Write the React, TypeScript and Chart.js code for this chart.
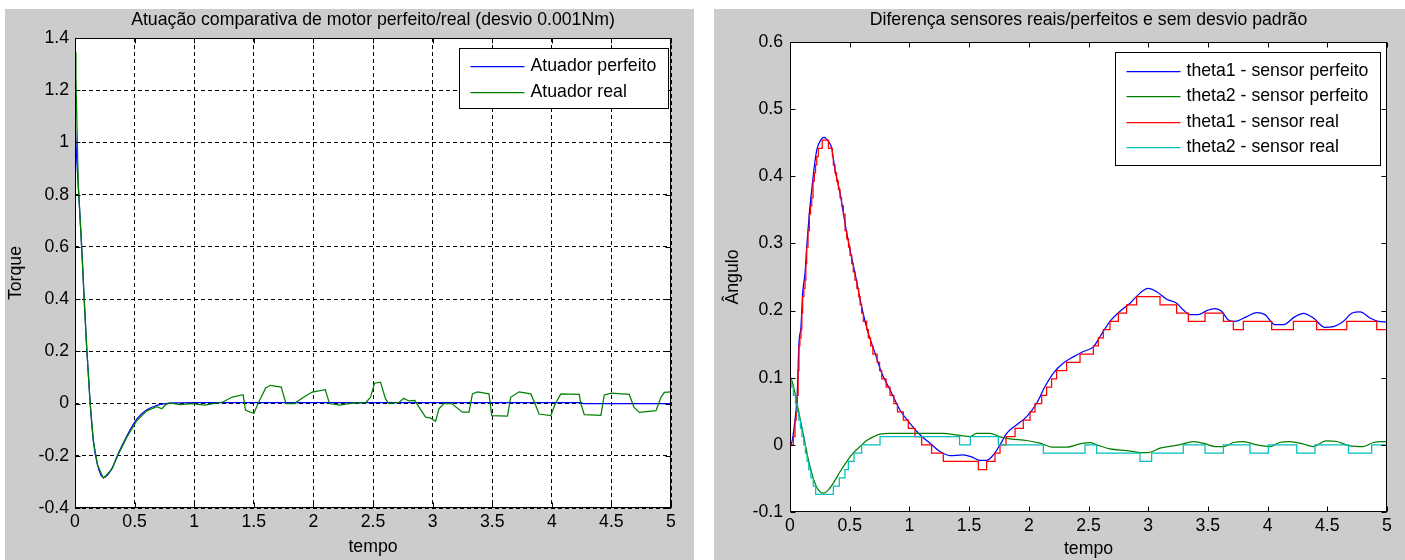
import React, { useEffect, useRef } from "react";
import { Chart, registerables } from "chart.js";

Chart.register(...registerables);

const FONT = "'Liberation Sans', Arial, Helvetica, sans-serif";
const FS = 17.7;

// ---------------- Left chart: torque ----------------
const leftTitle = "Atuação comparativa de motor perfeito/real (desvio 0.001Nm)";
const leftYLabel = "Torque";
const xLabel = "tempo";
const X_TICKS = [0, 0.5, 1, 1.5, 2, 2.5, 3, 3.5, 4, 4.5, 5];
const LEFT_Y_TICKS = [-0.4, -0.2, 0, 0.2, 0.4, 0.6, 0.8, 1, 1.2, 1.4];

const torquePerfeitoT = [0, 0.012, 0.028, 0.056, 0.076, 0.098, 0.126, 0.154, 0.188, 0.238, 0.308, 0.364, 0.434, 0.518, 0.602, 0.686, 0.76, 0.85, 1.0, 4.25, 4.26, 5.0];
const torquePerfeitoV = [1.1, 0.96, 0.83, 0.6, 0.41, 0.215, 0.01, -0.143, -0.233, -0.284, -0.25, -0.19, -0.125, -0.06, -0.024, -0.007, 0.0, 0.003, 0.004, 0.004, 0.0, 0.0];

const torqueRealT = [0, 0.008, 0.028, 0.056, 0.076, 0.098, 0.126, 0.154, 0.188, 0.238, 0.308, 0.364, 0.434, 0.518, 0.602, 0.686, 0.728, 0.76, 0.794, 0.88, 0.98, 1.09, 1.16, 1.24, 1.32, 1.41, 1.43, 1.5, 1.536, 1.6, 1.64, 1.73, 1.77, 1.84, 1.92, 1.99, 2.1, 2.135, 2.22, 2.33, 2.44, 2.479, 2.513, 2.563, 2.605, 2.633, 2.72, 2.759, 2.8, 2.85, 2.941, 2.98, 3.025, 3.053, 3.095, 3.16, 3.25, 3.305, 3.334, 3.376, 3.473, 3.496, 3.628, 3.655, 3.725, 3.824, 3.866, 3.893, 3.992, 4.03, 4.076, 4.23, 4.244, 4.272, 4.412, 4.44, 4.5, 4.65, 4.69, 4.734, 4.874, 4.916, 4.944, 5.0];
const torqueRealV = [1.346, 1.24, 0.83, 0.6, 0.41, 0.215, 0.01, -0.143, -0.233, -0.286, -0.252, -0.194, -0.13, -0.066, -0.028, -0.012, -0.02, -0.005, 0.003, -0.004, 0.0, -0.006, 0.0, 0.006, 0.025, 0.034, -0.025, -0.038, 0.0, 0.06, 0.07, 0.063, 0.0, 0.0, 0.025, 0.044, 0.053, 0.0, -0.006, 0.002, 0.004, 0.024, 0.078, 0.082, 0.018, 0.0, 0.005, 0.02, 0.01, 0.012, -0.052, -0.055, -0.068, -0.02, 0.0, 0.0, -0.033, -0.033, 0.037, 0.045, 0.037, -0.046, -0.048, 0.024, 0.045, 0.037, -0.008, -0.04, -0.046, 0.0, 0.037, 0.035, 0.0, -0.042, -0.045, 0.033, 0.04, 0.035, -0.015, -0.034, -0.027, 0.024, 0.043, 0.045];

// ---------------- Right chart: angles ----------------
const rightTitle = "Diferença sensores reais/perfeitos e sem desvio padrão";
const rightYLabel = "Ângulo";
const RIGHT_Y_TICKS = [-0.1, 0, 0.1, 0.2, 0.3, 0.4, 0.5, 0.6];

const theta1PerfT = [0, 0.014, 0.042, 0.061, 0.075, 0.092, 0.106, 0.126, 0.14, 0.162, 0.182, 0.204, 0.224, 0.251, 0.285, 0.321, 0.349, 0.377, 0.419, 0.461, 0.503, 0.544, 0.6, 0.656, 0.712, 0.768, 0.838, 0.921, 1.005, 1.089, 1.173, 1.256, 1.34, 1.45, 1.52, 1.591, 1.647, 1.703, 1.759, 1.815, 1.899, 1.982, 2.066, 2.136, 2.206, 2.29, 2.373, 2.457, 2.541, 2.596, 2.68, 2.764, 2.848, 2.931, 3.0, 3.071, 3.155, 3.239, 3.294, 3.35, 3.42, 3.49, 3.56, 3.615, 3.671, 3.727, 3.825, 3.909, 3.978, 4.062, 4.132, 4.23, 4.3, 4.383, 4.481, 4.551, 4.635, 4.704, 4.774, 4.858, 4.927, 5.0];
const theta1PerfV = [0, 0.003, 0.037, 0.077, 0.151, 0.176, 0.226, 0.256, 0.295, 0.345, 0.38, 0.415, 0.439, 0.452, 0.458, 0.452, 0.442, 0.41, 0.375, 0.33, 0.29, 0.256, 0.206, 0.166, 0.137, 0.107, 0.082, 0.052, 0.032, 0.015, 0.0025, -0.01, -0.016, -0.015, -0.018, -0.023, -0.023, -0.015, 0, 0.017, 0.03, 0.042, 0.062, 0.087, 0.107, 0.122, 0.131, 0.139, 0.146, 0.161, 0.184, 0.199, 0.211, 0.226, 0.233, 0.228, 0.217, 0.211, 0.201, 0.194, 0.194, 0.2, 0.203, 0.199, 0.186, 0.184, 0.191, 0.197, 0.194, 0.179, 0.179, 0.191, 0.196, 0.189, 0.175, 0.176, 0.184, 0.196, 0.198, 0.189, 0.184, 0.183];

const theta2PerfT = [0, 0.008, 0.042, 0.07, 0.098, 0.126, 0.154, 0.182, 0.209, 0.237, 0.279, 0.321, 0.363, 0.419, 0.475, 0.53, 0.586, 0.642, 0.698, 0.754, 0.838, 1.0, 1.284, 1.424, 1.508, 1.563, 1.675, 1.759, 1.843, 1.982, 2.094, 2.206, 2.317, 2.429, 2.513, 2.568, 2.68, 2.819, 2.931, 3.0, 3.099, 3.21, 3.294, 3.378, 3.46, 3.56, 3.63, 3.713, 3.797, 3.909, 4.02, 4.1, 4.19, 4.3, 4.38, 4.49, 4.578, 4.69, 4.8, 4.886, 5.0];
const theta2PerfV = [0.1, 0.099, 0.077, 0.052, 0.027, 0.0025, -0.022, -0.042, -0.057, -0.067, -0.072, -0.067, -0.057, -0.04, -0.025, -0.012, -0.0025, 0.0064, 0.012, 0.016, 0.017, 0.017, 0.017, 0.014, 0.0124, 0.017, 0.017, 0.012, 0.009, 0.0065, 0.0025, -0.0035, -0.0035, 0.0015, 0.0035, 0, -0.006, -0.0085, -0.0114, -0.0114, -0.005, -0.0015, 0.0015, 0.005, 0.0025, -0.0025, -0.0025, 0.0035, 0.005, 0, -0.0025, 0.0035, 0.005, 0.001, -0.0025, 0.006, 0.005, -0.0015, -0.0025, 0.0035, 0.005];

// real sensor: level held from each time until the next one
const theta1RealT = [0, 0.012, 0.028, 0.042, 0.052, 0.061, 0.068, 0.075, 0.083, 0.092, 0.099, 0.106, 0.116, 0.126, 0.133, 0.14, 0.151, 0.162, 0.172, 0.182, 0.193, 0.204, 0.214, 0.224, 0.237, 0.27, 0.322, 0.355, 0.363, 0.377, 0.39, 0.405, 0.419, 0.432, 0.447, 0.461, 0.475, 0.49, 0.503, 0.517, 0.53, 0.544, 0.56, 0.575, 0.587, 0.6, 0.614, 0.642, 0.656, 0.675, 0.694, 0.73, 0.75, 0.768, 0.805, 0.838, 0.87, 0.9, 0.949, 0.991, 1.047, 1.103, 1.186, 1.284, 1.577, 1.647, 1.717, 1.759, 1.809, 1.885, 1.954, 2.01, 2.052, 2.108, 2.149, 2.191, 2.233, 2.317, 2.429, 2.541, 2.582, 2.624, 2.68, 2.75, 2.819, 2.903, 3.099, 3.238, 3.336, 3.476, 3.63, 3.713, 3.797, 4.034, 4.216, 4.411, 4.663, 4.914, 5.0];
const theta1RealV = [0, 0, 0.0123, 0.0368, 0.0491, 0.0736, 0.1104, 0.1473, 0.1595, 0.1718, 0.1963, 0.2209, 0.2332, 0.2454, 0.27, 0.2945, 0.319, 0.3436, 0.3559, 0.3682, 0.3927, 0.405, 0.4172, 0.4295, 0.4418, 0.454, 0.4418, 0.4295, 0.4172, 0.405, 0.3927, 0.3804, 0.3682, 0.3559, 0.3436, 0.319, 0.3068, 0.2945, 0.2822, 0.27, 0.2577, 0.2454, 0.2332, 0.2209, 0.2086, 0.1963, 0.1841, 0.1718, 0.1595, 0.1473, 0.135, 0.1227, 0.1104, 0.0982, 0.0859, 0.0736, 0.0614, 0.0491, 0.0368, 0.0245, 0.0123, 0, -0.0123, -0.0245, -0.0368, -0.0245, -0.0123, 0, 0.0123, 0.0245, 0.0368, 0.0491, 0.0614, 0.0736, 0.0859, 0.0982, 0.1104, 0.1227, 0.135, 0.1473, 0.1595, 0.1718, 0.1841, 0.1963, 0.2086, 0.2209, 0.2086, 0.1963, 0.1841, 0.1963, 0.1841, 0.1718, 0.1841, 0.1718, 0.1841, 0.1718, 0.1841, 0.1718, 0.1718];

const theta2RealT = [0, 0.01, 0.028, 0.046, 0.06, 0.074, 0.087, 0.1, 0.115, 0.129, 0.143, 0.157, 0.175, 0.195, 0.215, 0.363, 0.413, 0.46, 0.489, 0.536, 0.6, 0.754, 1.42, 1.51, 1.745, 2.122, 2.471, 2.568, 2.931, 3.029, 3.294, 3.476, 3.63, 3.853, 4.006, 4.244, 4.397, 4.677, 4.872, 5.0];
const theta2RealV = [0.0982, 0.0859, 0.0736, 0.0614, 0.0491, 0.0368, 0.0245, 0.0123, 0, -0.0123, -0.0245, -0.0368, -0.0491, -0.0614, -0.0736, -0.0614, -0.0491, -0.0368, -0.0245, -0.0123, 0, 0.0123, 0, 0.0123, 0, -0.0123, 0, -0.0123, -0.0245, -0.0123, 0, -0.0123, 0, -0.0123, 0, -0.0123, 0, -0.0123, 0, 0];

const pts = (xs: number[], ys: number[]) => xs.map((x, i) => ({ x, y: ys[i] }));

const matlabPlugin = {
  id: "matlab",
  beforeDraw(chart: any) {
    const { ctx, width, height, chartArea: ca } = chart;
    ctx.save();
    ctx.fillStyle = "#cccccc";
    ctx.fillRect(0, 0, width, height);
    ctx.fillStyle = "#ffffff";
    ctx.fillRect(ca.left, ca.top, ca.right - ca.left, ca.bottom - ca.top);
    ctx.restore();
  },
  afterDraw(chart: any, _args: any, opts: any) {
    const { ctx, chartArea: ca } = chart;
    const xs = chart.scales.x;
    const ys = chart.scales.y;
    const L = Math.round(ca.left) + 0.5;
    const R = Math.round(ca.right) - 0.5;
    const T = Math.round(ca.top) + 0.5;
    const B = Math.round(ca.bottom) - 0.5;
    ctx.save();
    ctx.strokeStyle = "#000";
    ctx.lineWidth = 1;
    ctx.setLineDash([]);
    ctx.beginPath();
    xs.ticks.forEach((t: any) => {
      const px = Math.round(xs.getPixelForValue(t.value)) + 0.5;
      ctx.moveTo(px, B);
      ctx.lineTo(px, B - 5);
      ctx.moveTo(px, T);
      ctx.lineTo(px, T + 5);
    });
    ys.ticks.forEach((t: any) => {
      const py = Math.round(ys.getPixelForValue(t.value)) + 0.5;
      ctx.moveTo(L, py);
      ctx.lineTo(L + 5, py);
      ctx.moveTo(R, py);
      ctx.lineTo(R - 5, py);
    });
    ctx.stroke();
    ctx.strokeRect(L, T, R - L, B - T);

    const lg = opts.legend;
    const ds = chart.data.datasets;
    ctx.font = `${lg.size}px ${FONT}`;
    const tw = Math.max(...ds.map((d: any) => ctx.measureText(d.label).width));
    const bw = Math.round(lg.padL + lg.lineLen + lg.gap + tw + lg.padR);
    const bh = Math.round(lg.first * 2 + lg.spacing * (ds.length - 1));
    const bx = Math.round(ca.right - lg.right - bw) + 0.5;
    const by = Math.round(ca.top + lg.top) + 0.5;
    ctx.fillStyle = "#fff";
    ctx.fillRect(bx, by, bw, bh);
    ctx.strokeStyle = "#000";
    ctx.strokeRect(bx, by, bw, bh);
    ds.forEach((d: any, i: number) => {
      const y = Math.round(by + lg.first + i * lg.spacing) + 0.5;
      ctx.strokeStyle = d.borderColor;
      ctx.lineWidth = d.borderWidth;
      ctx.beginPath();
      ctx.moveTo(bx + lg.padL, y);
      ctx.lineTo(bx + lg.padL + lg.lineLen, y);
      ctx.stroke();
      ctx.fillStyle = "#000";
      ctx.textBaseline = "middle";
      ctx.textAlign = "left";
      ctx.fillText(d.label, bx + lg.padL + lg.lineLen + lg.gap, y);
    });
    ctx.restore();
  },
};

function buildConfig(p: any) {
  const font = { family: FONT, size: FS, weight: "normal" as const };
  return {
    type: "line" as const,
    data: { datasets: p.datasets },
    options: {
      animation: false as const,
      responsive: false,
      devicePixelRatio: 1,
      events: [],
      layout: { padding: { left: 0, right: p.padRight, top: 0, bottom: 0 } },
      plugins: {
        legend: { display: false },
        tooltip: { enabled: false },
        title: {
          display: true,
          fullSize: false,
          text: p.title,
          color: "#000",
          font,
          padding: { top: 0, bottom: p.titleGap },
        },
        matlab: { legend: p.legend },
      },
      scales: {
        x: {
          type: "linear",
          min: 0,
          max: 5,
          afterBuildTicks: (s: any) => {
            s.ticks = X_TICKS.map((v) => ({ value: v }));
          },
          afterFit: (s: any) => {
            s.height = p.xHeight;
          },
          ticks: {
            color: "#000",
            font,
            padding: p.xTickPad,
            maxRotation: 0,
            autoSkip: false,
            callback: (v: any) => String(v),
          },
          grid: p.grid
            ? { display: true, color: "#000", lineWidth: 1, drawTicks: false }
            : { display: false, drawTicks: false },
          border: { display: false, dash: [4, 3] },
          title: {
            display: true,
            text: xLabel,
            color: "#000",
            font,
            padding: { top: 0, bottom: p.xTitlePad },
          },
        },
        y: {
          type: "linear",
          min: p.yTicks[0],
          max: p.yTicks[p.yTicks.length - 1],
          afterBuildTicks: (s: any) => {
            s.ticks = p.yTicks.map((v: number) => ({ value: v }));
          },
          afterFit: (s: any) => {
            s.width = p.yWidth;
          },
          ticks: {
            color: "#000",
            font,
            padding: p.yTickPad,
            autoSkip: false,
            callback: (v: any) => String(v),
          },
          grid: p.grid
            ? { display: true, color: "#000", lineWidth: 1, drawTicks: false }
            : { display: false, drawTicks: false },
          border: { display: false, dash: [4, 3] },
          title: {
            display: true,
            text: p.yLabel,
            color: "#000",
            font,
            padding: { top: p.yTitlePad, bottom: 0 },
          },
        },
      },
    },
    plugins: [matlabPlugin],
  };
}

const lineDs = (label: string, color: string, data: any[], order: number, extra: any = {}) => ({
  label,
  data,
  borderColor: color,
  backgroundColor: color,
  borderWidth: 1.25,
  pointRadius: 0,
  fill: false,
  order,
  ...extra,
});

const leftConfig = () =>
  buildConfig({
    title: leftTitle,
    yLabel: leftYLabel,
    yTicks: LEFT_Y_TICKS,
    grid: true,
    padRight: 23,
    titleGap: 7.8,
    xHeight: 52,
    yWidth: 70,
    xTickPad: 3.9,
    yTickPad: 6,
    xTitlePad: 2.4,
    yTitlePad: 0,
    legend: { size: FS, padL: 11, lineLen: 54, gap: 6, padR: 12, first: 17, spacing: 26, right: 3, top: 10 },
    datasets: [
      lineDs("Atuador perfeito", "#0000ff", pts(torquePerfeitoT, torquePerfeitoV), 1, { cubicInterpolationMode: "monotone" }),
      lineDs("Atuador real", "#008000", pts(torqueRealT, torqueRealV), 0),
    ],
  });

const rightConfig = () =>
  buildConfig({
    title: rightTitle,
    yLabel: rightYLabel,
    yTicks: RIGHT_Y_TICKS,
    grid: false,
    padRight: 18,
    titleGap: 11.8,
    xHeight: 48,
    yWidth: 76,
    xTickPad: 3.7,
    yTickPad: 7,
    xTitlePad: 0,
    yTitlePad: 8.4,
    legend: { size: FS, padL: 11, lineLen: 54, gap: 6, padR: 12, first: 18, spacing: 25.5, right: 7, top: 10 },
    datasets: [
      lineDs("theta1 - sensor perfeito", "#0000ff", pts(theta1PerfT, theta1PerfV), 3, { cubicInterpolationMode: "monotone" }),
      lineDs("theta2 - sensor perfeito", "#008000", pts(theta2PerfT, theta2PerfV), 2, { cubicInterpolationMode: "monotone" }),
      lineDs("theta1 - sensor real", "#ff0000", pts(theta1RealT, theta1RealV), 1, { stepped: "before" }),
      lineDs("theta2 - sensor real", "#00bfbf", pts(theta2RealT, theta2RealV), 0, { stepped: "before" }),
    ],
  });

function Panel(props: { left: number; top: number; width: number; height: number; makeConfig: () => any }) {
  const { left, top, width, height, makeConfig } = props;
  const ref = useRef<HTMLCanvasElement | null>(null);
  useEffect(() => {
    if (!ref.current) return;
    const chart = new Chart(ref.current, makeConfig());
    return () => chart.destroy();
  }, [makeConfig]);
  return (
    <div style={{ position: "absolute", left, top, width, height }}>
      <canvas ref={ref} width={width} height={height} style={{ display: "block", width, height }} />
    </div>
  );
}

export default function App() {
  return (
    <div style={{ position: "fixed", left: 0, top: 0, width: 1405, height: 560, background: "#ffffff", overflow: "hidden" }}>
      <Panel left={5} top={9} width={689} height={551} makeConfig={leftConfig} />
      <Panel left={714} top={9} width={691} height={551} makeConfig={rightConfig} />
    </div>
  );
}
